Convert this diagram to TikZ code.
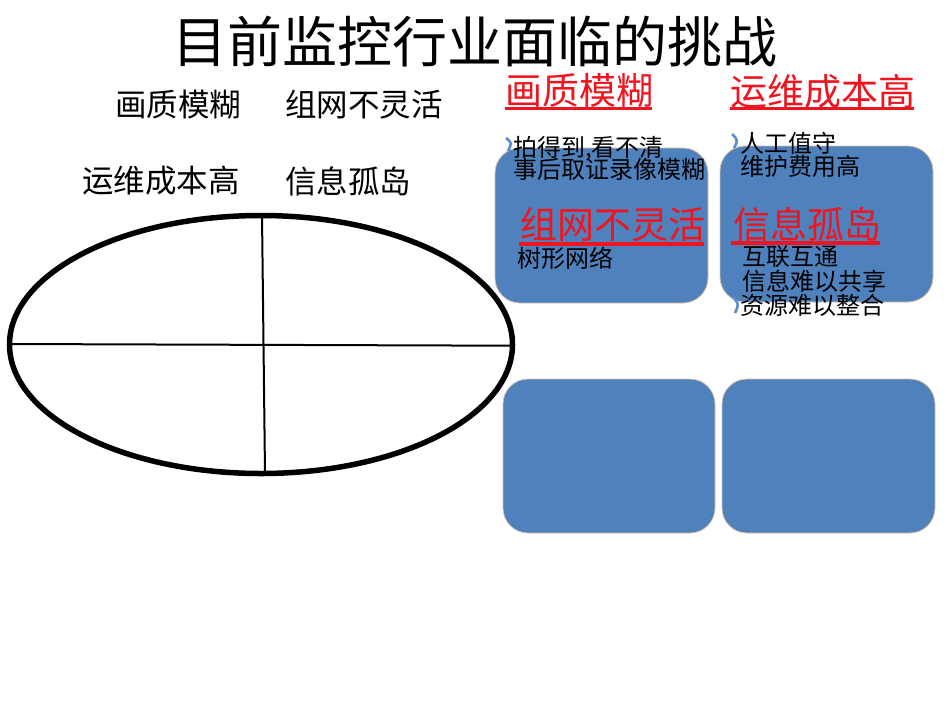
\documentclass[tikz,border=0pt]{standalone}
\usepackage{fontspec}
\setmainfont{Noto Sans CJK SC}
\definecolor{boxblue}{HTML}{4F81BD}
\definecolor{boxedge}{HTML}{D6C2A8}
\definecolor{hred}{HTML}{F0141E}
\definecolor{bullet}{HTML}{5B8BD0}
\tikzset{
  txt/.style={anchor=west, inner sep=0pt, text=black},
  title/.style={txt, anchor=center, font=\fontsize{55}{60}\selectfont},
  lefttxt/.style={txt, font=\fontsize{31.5}{34}\selectfont},
  head/.style={txt, text=hred, font=\fontsize{37}{40}\selectfont},
  body/.style={txt, font=\fontsize{24}{26}\selectfont},
  panel/.style={draw=boxedge, line width=0.8pt, fill=boxblue, rounded corners=25pt},
  uline/.style={draw=hred, line width=3.5pt},
  bmark/.style={draw=bullet, line width=2.6pt},
}
\begin{document}
\begin{tikzpicture}[x=1pt,y=-1pt]
\useasboundingbox (0,0) rectangle (950,715);
% panels
\path[panel] (495,148) rectangle (708,303);
\path[panel] (720,146) rectangle (933,302);
\path[panel] (503,379) rectangle (715,533);
\path[panel] (722,379) rectangle (935,533);
% ellipse
\draw[line width=5.5pt] (261,344.5) ellipse [x radius=251.5, y radius=129];
\coordinate (vt) at (262,215);
\coordinate (vb) at (265,473);
\coordinate (hl) at (10,344);
\coordinate (hr) at (512,345.7);
\draw[line width=2pt] (vt) -- (vb);
\draw[line width=2pt] (hl) -- (hr);
% title
\node[title] (t) at (475,42) {目前监控行业面临的挑战};
% left texts
\node[lefttxt] (l1) at (115,105) {画质模糊};
\node[lefttxt] (l2) at (285,105) {组网不灵活};
\node[lefttxt] (l3) at (82,181) {运维成本高};
\node[lefttxt] (l4) at (285,181) {信息孤岛};
% red headings
\node[head] (h1) at (505,91) {画质模糊};
\node[head] (h2) at (730,92) {运维成本高};
\node[head] (h3) at (520,225) {组网不灵活};
\node[head] (h4) at (733,224) {信息孤岛};
\path[uline] (505,108.5) -- (652,108.5);
\path[uline] (730,108.5) -- (914,108.5);
\path[uline] (519,244) -- (704,244);
\path[uline] (731,243) -- (880,243);
% bullet marks
\path[bmark] (506,138) .. controls (512,143) .. (508,151);
\path[bmark] (732,134) .. controls (738,140) .. (734,148);
\path[bmark] (733,297) .. controls (739,304) .. (735,313);
% body texts
\node[body] (b1) at (513,149) {拍得到,看不清};
\node[body] (b2) at (513,170) {事后取证录像模糊};
\node[body] (b3) at (517,258) {树形网络};
\node[body] (b4) at (740,143) {人工值守};
\node[body] (b5) at (740,166) {维护费用高};
\node[body] (b6) at (742,257) {互联互通};
\node[body] (b7) at (742,281) {信息难以共享};
\node[body] (b8) at (740,305) {资源难以整合};
\end{tikzpicture}
\end{document}
